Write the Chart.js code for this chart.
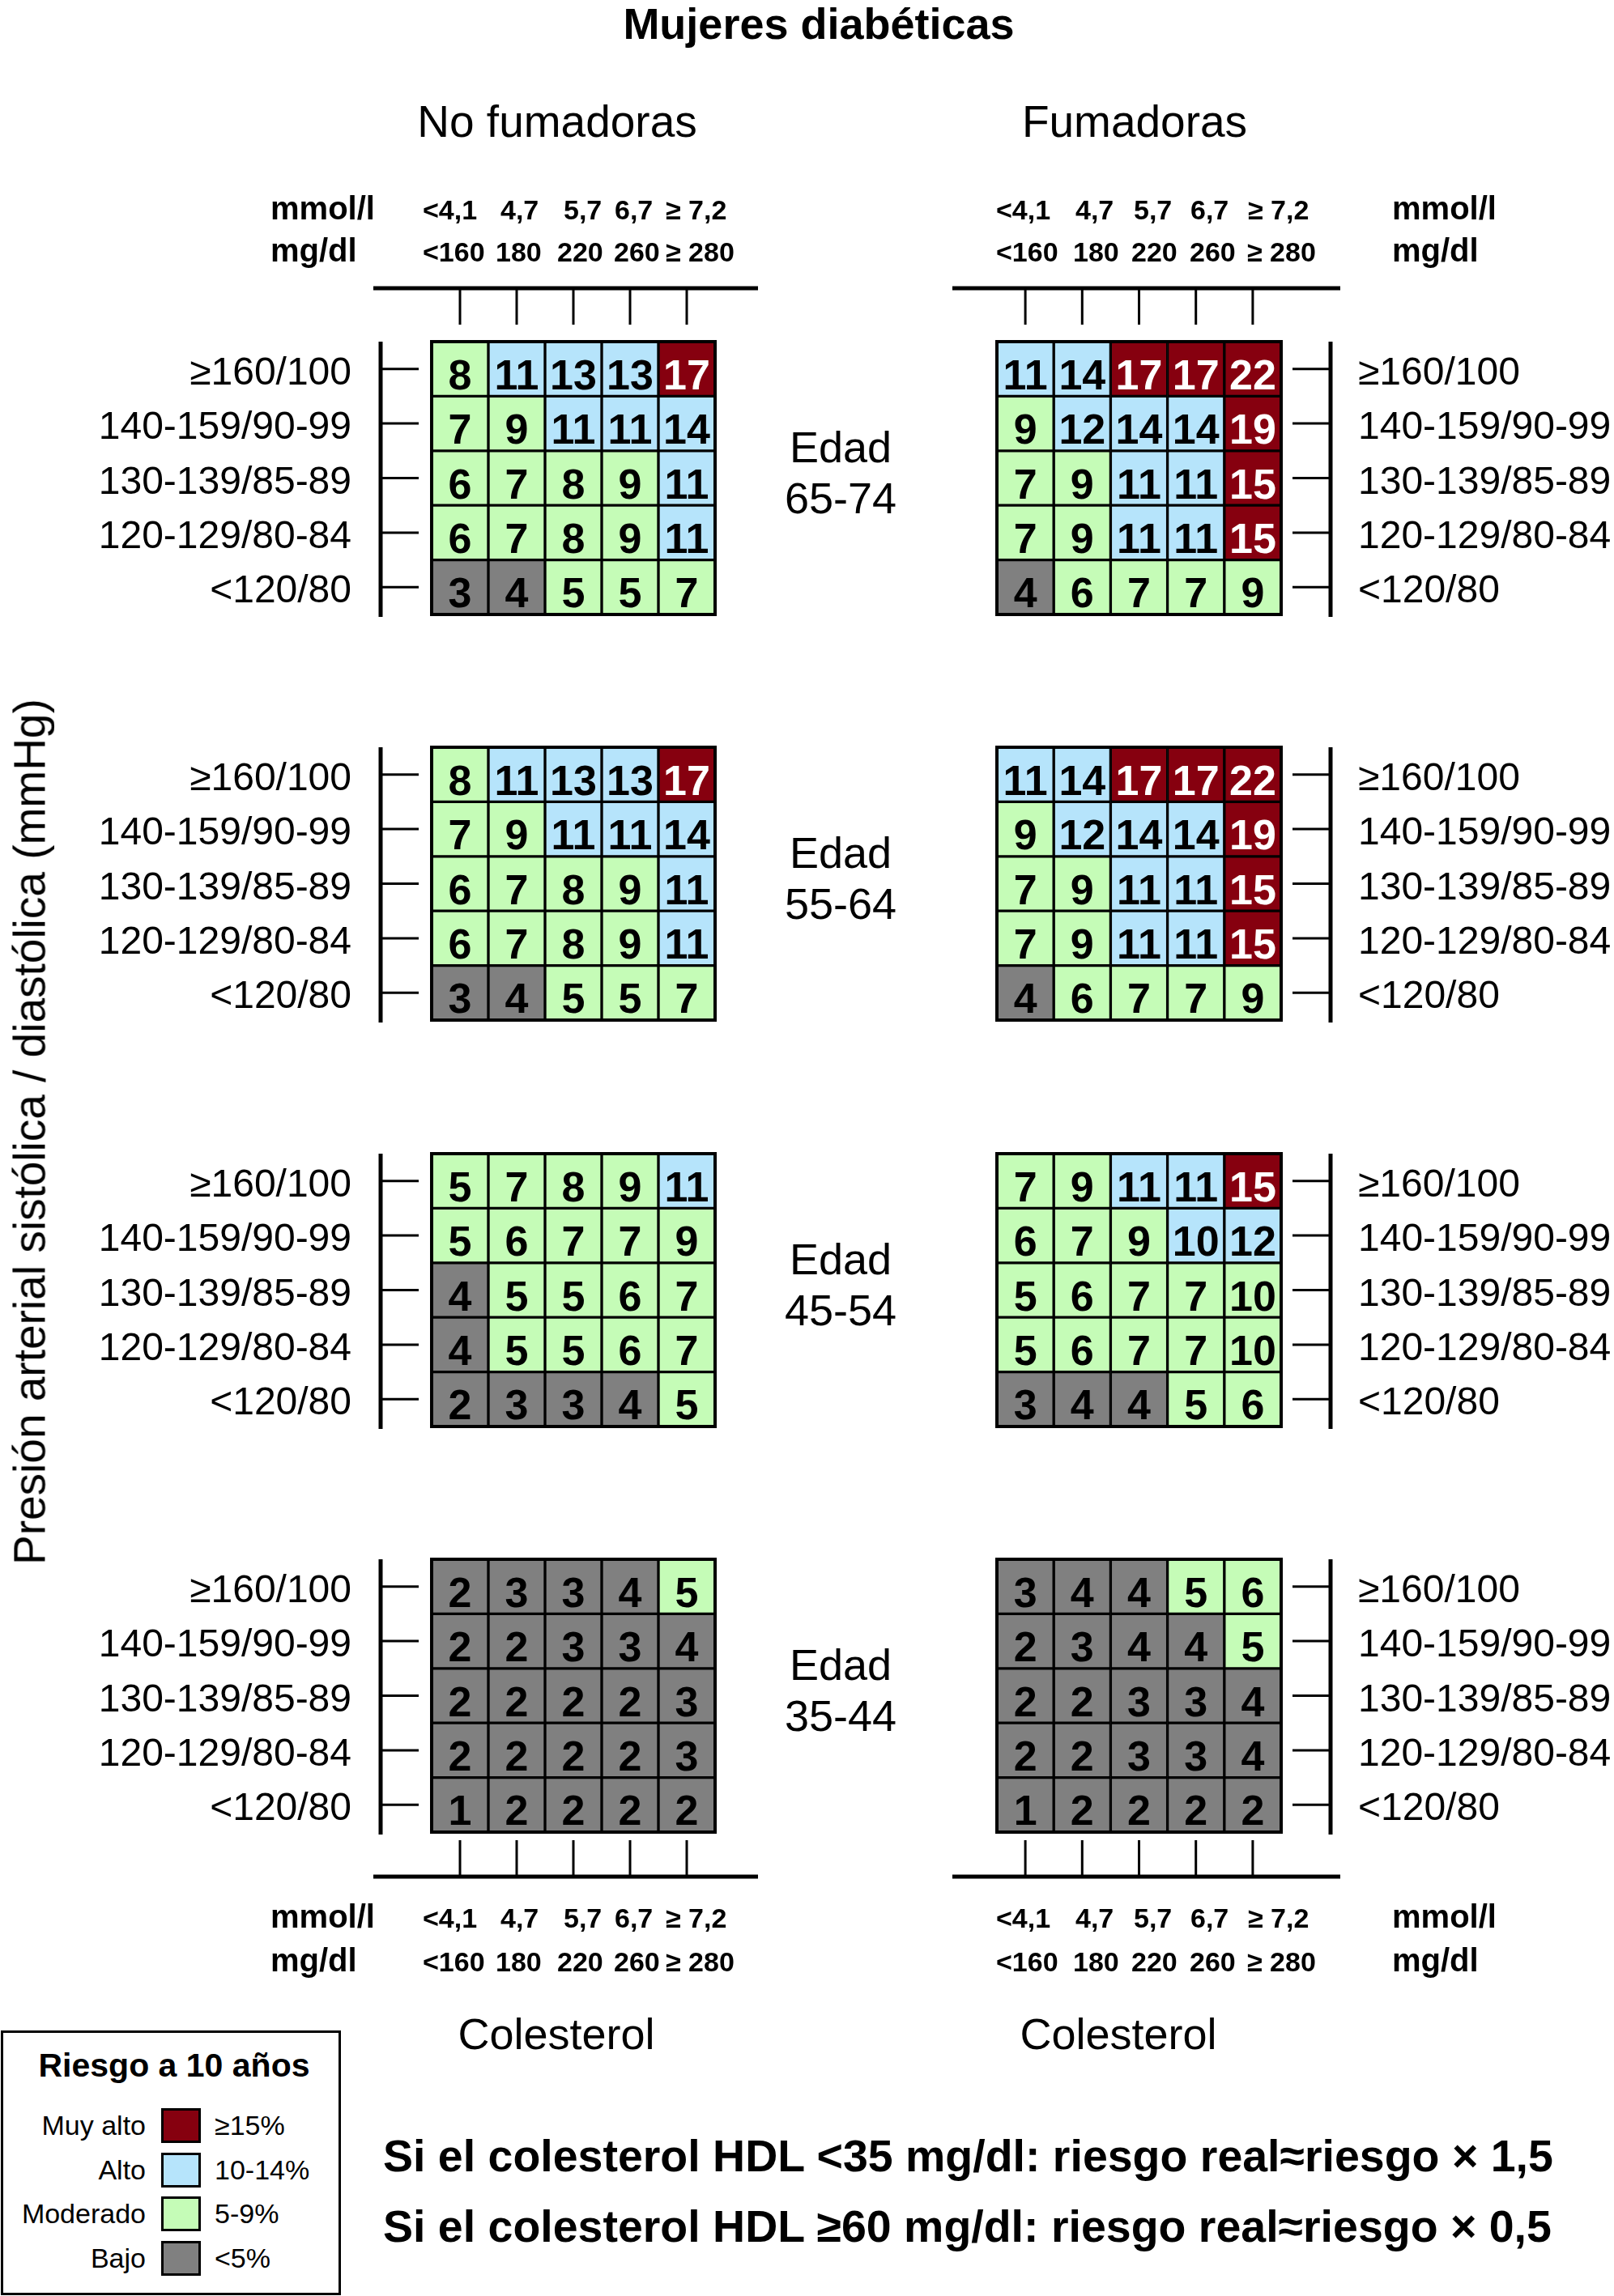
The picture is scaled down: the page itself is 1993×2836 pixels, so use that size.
<!DOCTYPE html>
<html>
<head>
<meta charset="utf-8">
<script src="https://cdn.jsdelivr.net/npm/chart.js@4.4.1/dist/chart.umd.min.js"></script>
<style>
	body { margin: 0; background: #fff; }
	#page { position: relative; width: 1993px; height: 2836px; overflow: hidden; background: #fff;
		font-family: "Liberation Sans", Arial, sans-serif; color: #000; }
	#page canvas { position: absolute; }
	.t { position: absolute; white-space: nowrap; line-height: 1; }
</style>
</head>
<body>
<div id="page"></div>
<script>
// columnas: colesterol total
const colMmol = ['<4,1', '4,7', '5,7', '6,7', '≥ 7,2'];
const colMg = ['<160', '180', '220', '260', '≥ 280'];
// filas de arriba a abajo: presión arterial
const rowLabels = ['≥160/100', '140-159/90-99', '130-139/85-89', '120-129/80-84', '<120/80'];
const ageGroups = ['65-74', '55-64', '45-54', '35-44'];

// riesgo a 10 años (%), filas de arriba (≥160/100) a abajo (<120/80)
const noFum6574 = [[8, 11, 13, 13, 17], [7, 9, 11, 11, 14], [6, 7, 8, 9, 11], [6, 7, 8, 9, 11], [3, 4, 5, 5, 7]];
const fum6574 = [[11, 14, 17, 17, 22], [9, 12, 14, 14, 19], [7, 9, 11, 11, 15], [7, 9, 11, 11, 15], [4, 6, 7, 7, 9]];
const noFum5564 = [[8, 11, 13, 13, 17], [7, 9, 11, 11, 14], [6, 7, 8, 9, 11], [6, 7, 8, 9, 11], [3, 4, 5, 5, 7]];
const fum5564 = [[11, 14, 17, 17, 22], [9, 12, 14, 14, 19], [7, 9, 11, 11, 15], [7, 9, 11, 11, 15], [4, 6, 7, 7, 9]];
const noFum4554 = [[5, 7, 8, 9, 11], [5, 6, 7, 7, 9], [4, 5, 5, 6, 7], [4, 5, 5, 6, 7], [2, 3, 3, 4, 5]];
const fum4554 = [[7, 9, 11, 11, 15], [6, 7, 9, 10, 12], [5, 6, 7, 7, 10], [5, 6, 7, 7, 10], [3, 4, 4, 5, 6]];
const noFum3544 = [[2, 3, 3, 4, 5], [2, 2, 3, 3, 4], [2, 2, 2, 2, 3], [2, 2, 2, 2, 3], [1, 2, 2, 2, 2]];
const fum3544 = [[3, 4, 4, 5, 6], [2, 3, 4, 4, 5], [2, 2, 3, 3, 4], [2, 2, 3, 3, 4], [1, 2, 2, 2, 2]];

// nivel de cada celda: R muy alto, A alto, M moderado, B bajo
const nivNoFum6574 = ['MAAAR', 'MMAAA', 'MMMMA', 'MMMMA', 'BBMMM'];
const nivFum6574 = ['AARRR', 'MAAAR', 'MMAAR', 'MMAAR', 'BMMMM'];
const nivNoFum5564 = ['MAAAR', 'MMAAA', 'MMMMA', 'MMMMA', 'BBMMM'];
const nivFum5564 = ['AARRR', 'MAAAR', 'MMAAR', 'MMAAR', 'BMMMM'];
const nivNoFum4554 = ['MMMMA', 'MMMMM', 'BMMMM', 'BMMMM', 'BBBBM'];
const nivFum4554 = ['MMAAR', 'MMMAA', 'MMMMM', 'MMMMM', 'BBBMM'];
const nivNoFum3544 = ['BBBBM', 'BBBBB', 'BBBBB', 'BBBBB', 'BBBBB'];
const nivFum3544 = ['BBBMM', 'BBBBM', 'BBBBB', 'BBBBB', 'BBBBB'];

// leyenda
const legendLevels = ['R', 'A', 'M', 'B'];
const legendNames = ['Muy alto', 'Alto', 'Moderado', 'Bajo'];
const legendRanges = ['≥15%', '10-14%', '5-9%', '<5%'];

const colores = { R: '#86000f', A: '#b6e4fb', M: '#c5fcb7', B: '#808080' };

const page = document.getElementById('page');
const FONT = '"Liberation Sans", Arial, sans-serif';

// posicion de las tablas en la pagina
const GRID_TOP = [422, 923, 1425, 1926];
const GRID_H = 337;
const PAD_V = 200;
const lados = {
	izq: { x0: 533, x1: 883, cx: 0, cw: 996, mmolX: [-11, 85, 163, 226, 289], mgX: [-11, 79, 155, 225, 289] },
	der: { x0: 1231, x1: 1582, cx: 996, cw: 997, mmolX: [-1, 97, 169, 239, 310], mgX: [-1, 94, 166, 238, 309] }
};

function tablaPlugin(riesgo, niveles, lado, fila) {
	const g = lados[lado];
	return {
		id: 'tabla',
		afterDatasetsDraw(chart) {
			const ctx = chart.ctx;
			const a = chart.chartArea;
			const xs = chart.scales.x, ys = chart.scales.y;
			ctx.save();

			// valores de riesgo
			ctx.font = 'bold 52px ' + FONT;
			ctx.textAlign = 'center';
			ctx.textBaseline = 'alphabetic';
			chart.data.datasets.forEach((ds, d) => {
				const r = 4 - d;
				chart.getDatasetMeta(d).data.forEach((bar, c) => {
					const cy = (bar.y + bar.base) / 2;
					ctx.fillStyle = niveles[r][c] === 'R' ? '#fff' : '#000';
					ctx.fillText(String(riesgo[r][c]), bar.x, cy + 25);
				});
			});

			// borde exterior
			ctx.strokeStyle = '#000';
			ctx.lineWidth = 4;
			ctx.strokeRect(a.left, a.top, a.right - a.left, a.bottom - a.top);

			// eje de presion arterial
			ctx.fillStyle = '#000';
			ctx.lineWidth = 3;
			ctx.font = '48px ' + FONT;
			let lineX, t0, t1, labX;
			if (lado === 'izq') {
				lineX = a.left - 63; t0 = lineX; t1 = a.left - 16; labX = a.left - 99;
				ctx.textAlign = 'right';
			} else {
				lineX = a.right + 61; t0 = a.right + 14; t1 = lineX; labX = a.right + 95;
				ctx.textAlign = 'left';
			}
			ctx.fillRect(lineX - 2.5, a.top, 5, a.bottom - a.top + 3);
			rowLabels.forEach((lab, r) => {
				const y = ys.getPixelForValue(4.5 - r);
				ctx.beginPath();
				ctx.moveTo(t0, y);
				ctx.lineTo(t1, y);
				ctx.stroke();
				ctx.fillText(lab, labX, y + 19);
			});

			// eje de colesterol (arriba en la primera fila, abajo en la ultima)
			if (fila === 0 || fila === 3) {
				const arriba = fila === 0;
				const lineY = arriba ? a.top - 66 : a.bottom + 55;
				const xa = lado === 'izq' ? a.left - 72 : a.left - 55;
				const xb = lado === 'izq' ? a.right + 53 : a.right + 73;
				ctx.fillRect(xa, lineY - 2.5, xb - xa, 5);
				colMmol.forEach((lab, c) => {
					const x = xs.getPixelForValue(c);
					ctx.beginPath();
					ctx.moveTo(x, lineY);
					ctx.lineTo(x, arriba ? a.top - 21 : a.bottom + 10);
					ctx.stroke();
				});
				const bMmol = arriba ? a.top - 151 : a.bottom + 118;
				const bMg = arriba ? a.top - 99 : a.bottom + 172;
				ctx.textAlign = 'left';
				ctx.font = 'bold 34px ' + FONT;
				colMmol.forEach((lab, c) => ctx.fillText(lab, a.left + g.mmolX[c], bMmol));
				colMg.forEach((lab, c) => ctx.fillText(lab, a.left + g.mgX[c], bMg));
				ctx.font = 'bold 40px ' + FONT;
				const ux = lado === 'izq' ? a.left - 199 : a.right + 137;
				ctx.fillText('mmol/l', ux, bMmol);
				ctx.fillText('mg/dl', ux, bMg);
			}
			ctx.restore();
		}
	};
}

function crearTabla(riesgo, niveles, lado, fila) {
	const g = lados[lado];
	const top = GRID_TOP[fila];
	const canvas = document.createElement('canvas');
	const h = GRID_H + 2 * PAD_V;
	canvas.width = g.cw;
	canvas.height = h;
	canvas.style.left = g.cx + 'px';
	canvas.style.top = (top - PAD_V) + 'px';
	canvas.style.width = g.cw + 'px';
	canvas.style.height = h + 'px';
	page.appendChild(canvas);

	const datasets = [];
	for (let d = 0; d < 5; d++) {
		const r = 4 - d; // dataset 0 = fila inferior
		datasets.push({
			label: rowLabels[r],
			data: riesgo[r].map(() => 1),
			backgroundColor: niveles[r].split('').map(n => colores[n]),
			borderColor: '#000',
			borderWidth: 2,
			borderSkipped: false,
			barPercentage: 1,
			categoryPercentage: 1
		});
	}

	const config = {
		type: 'bar',
		data: { labels: colMmol, datasets: datasets },
		options: {
			responsive: false,
			animation: false,
			devicePixelRatio: 1,
			layout: {
				padding: { left: g.x0 - g.cx, right: g.cx + g.cw - g.x1, top: PAD_V, bottom: PAD_V }
			},
			scales: {
				x: { display: false, stacked: true },
				y: { display: false, stacked: true, min: 0, max: 5 }
			},
			plugins: {
				legend: { display: false },
				tooltip: { enabled: false }
			}
		},
		plugins: [tablaPlugin(riesgo, niveles, lado, fila)]
	};
	new Chart(canvas, config);
}

crearTabla(noFum6574, nivNoFum6574, 'izq', 0);
crearTabla(fum6574, nivFum6574, 'der', 0);
crearTabla(noFum5564, nivNoFum5564, 'izq', 1);
crearTabla(fum5564, nivFum5564, 'der', 1);
crearTabla(noFum4554, nivNoFum4554, 'izq', 2);
crearTabla(fum4554, nivFum4554, 'der', 2);
crearTabla(noFum3544, nivNoFum3544, 'izq', 3);
crearTabla(fum3544, nivFum3544, 'der', 3);

// textos de la pagina
function texto(str, x, base, size, opts) {
	opts = opts || {};
	const el = document.createElement('div');
	el.className = 't';
	el.textContent = str;
	el.style.fontSize = size + 'px';
	if (opts.bold) el.style.fontWeight = 'bold';
	el.style.left = x + 'px';
	el.style.top = (base - 0.8465 * size) + 'px';
	const tx = opts.align === 'center' ? '-50%' : opts.align === 'right' ? '-100%' : '0';
	el.style.transform = 'translateX(' + tx + ')';
	page.appendChild(el);
	return el;
}

texto('Mujeres diabéticas', 1011, 48, 54, { bold: true, align: 'center' });
texto('No fumadoras', 688, 170, 55, { align: 'center' });
texto('Fumadoras', 1401, 170, 55, { align: 'center' });

ageGroups.forEach((age, i) => {
	texto('Edad', 1038, GRID_TOP[i] + 149, 54, { align: 'center' });
	texto(age, 1038, GRID_TOP[i] + 212, 54, { align: 'center' });
});

texto('Colesterol', 687, 2531, 54, { align: 'center' });
texto('Colesterol', 1381, 2531, 54, { align: 'center' });

const yt = document.createElement('div');
yt.className = 't';
yt.textContent = 'Presión arterial sistólica / diastólica (mmHg)';
yt.style.fontSize = '55px';
yt.style.left = '56px';
yt.style.top = '1398px';
yt.style.transformOrigin = '0 0';
yt.style.transform = 'rotate(-90deg) translate(-50%, -0.8465em)';
page.appendChild(yt);

// leyenda
const box = document.createElement('div');
box.style.cssText = 'position:absolute;left:1px;top:2508px;width:420px;height:327px;border:3px solid #000;box-sizing:border-box;';
page.appendChild(box);
texto('Riesgo a 10 años', 215, 2566, 41, { bold: true, align: 'center' });
const swTop = [2604, 2659, 2713, 2768];
legendLevels.forEach((lv, i) => {
	const sw = document.createElement('div');
	sw.style.cssText = 'position:absolute;left:199px;width:49px;height:43px;border:3px solid #000;box-sizing:border-box;';
	sw.style.top = swTop[i] + 'px';
	sw.style.background = colores[lv];
	page.appendChild(sw);
	texto(legendNames[i], 180, swTop[i] + 33, 34, { align: 'right' });
	texto(legendRanges[i], 265, swTop[i] + 33, 34);
});

// notas HDL
const notas = [
	'Si el colesterol HDL <35 mg/dl: riesgo real≈riesgo × 1,5',
	'Si el colesterol HDL ≥60 mg/dl: riesgo real≈riesgo × 0,5'
];
const mctx = document.createElement('canvas').getContext('2d');
mctx.font = 'bold 100px ' + FONT;
const sizeNota = Math.min(60, 100 * 1446 / mctx.measureText(notas[0]).width);
texto(notas[0], 473, 2683, sizeNota, { bold: true });
texto(notas[1], 473, 2770, sizeNota, { bold: true });
</script>
</body>
</html>
